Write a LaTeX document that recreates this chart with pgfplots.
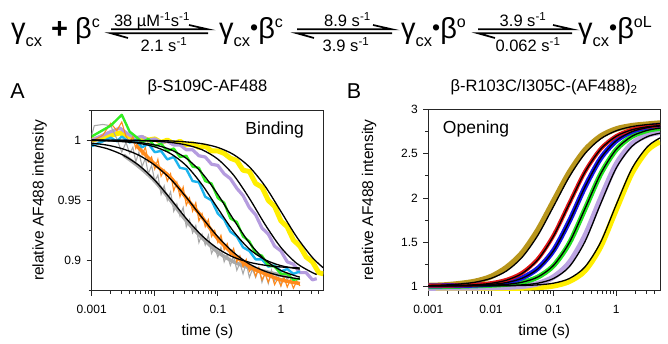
\documentclass[border=0pt]{standalone}
\usepackage{fontspec}
\setmainfont{Liberation Sans}
\usepackage{pgfplots}
\pgfplotsset{compat=1.18}
\definecolor{cgray}{HTML}{A9A9A9}
\definecolor{corange}{HTML}{FF8A1C}
\definecolor{ccyan}{HTML}{1CB4EE}
\definecolor{cgreen}{HTML}{33EE22}
\definecolor{cpurple}{HTML}{B59CDF}
\definecolor{cyellow}{HTML}{FFEE00}
\definecolor{cgold}{HTML}{B8961C}
\definecolor{cred}{HTML}{E01414}
\definecolor{cblue}{HTML}{1414E6}
\definecolor{cgreenb}{HTML}{22E022}
\definecolor{clav}{HTML}{BBA4E2}
\newcommand{\eqf}{\fontsize{29}{29}\selectfont}
\newcommand{\lblf}{\fontsize{16.5}{17}\selectfont}
\newcommand{\eqsub}[1]{\raisebox{-8.2pt}{\fontsize{16.5}{17}\selectfont #1}}
\newcommand{\eqsup}[1]{\raisebox{10.5pt}{\fontsize{16}{16}\selectfont #1}}
\newcommand{\bul}{\raisebox{2.5pt}{\fontsize{23}{23}\selectfont •}}
\tikzset{fitline/.style={black, line width=1.3pt, smooth}}
\begin{document}
\begin{tikzpicture}
\useasboundingbox (0pt,0pt) rectangle (668pt,343pt);
% ---------- reaction scheme ----------
\node[anchor=base west, inner sep=0pt, font=\eqf] at (11pt,304.7pt) {γ\eqsub{cx}\hspace{9pt}\textbf{+}\hspace{7pt}β\eqsup{c}};
\node[anchor=base west, inner sep=0pt, font=\eqf] at (219pt,304.7pt) {γ\eqsub{cx}\bul β\eqsup{c}};
\node[anchor=base west, inner sep=0pt, font=\eqf] at (401pt,304.7pt) {γ\eqsub{cx}\bul β\eqsup{o}};
\node[anchor=base west, inner sep=0pt, font=\eqf] at (578pt,304.7pt) {γ\eqsub{cx}\bul β\eqsup{oL}};
\draw[line width=1.7pt] (111pt,313.7pt) -- (208pt,313.7pt) -- (189pt,318pt);
\draw[line width=1.7pt] (208pt,309.7pt) -- (111pt,309.7pt) -- (128pt,305pt);
\draw[line width=1.7pt] (297pt,313.7pt) -- (392pt,313.7pt) -- (373pt,318pt);
\draw[line width=1.7pt] (392pt,309.7pt) -- (297pt,309.7pt) -- (314pt,305pt);
\draw[line width=1.7pt] (478pt,313.7pt) -- (572pt,313.7pt) -- (553pt,318pt);
\draw[line width=1.7pt] (572pt,309.7pt) -- (478pt,309.7pt) -- (495pt,305pt);
\node[anchor=base, inner sep=0pt, font=\lblf] at (152pt,316.5pt) {38 µM\textsuperscript{-1}s\textsuperscript{-1}};
\node[anchor=base, inner sep=0pt, font=\lblf] at (164pt,291.3pt) {2.1 s\textsuperscript{-1}};
\node[anchor=base, inner sep=0pt, font=\lblf] at (347.5pt,316.5pt) {8.9 s\textsuperscript{-1}};
\node[anchor=base, inner sep=0pt, font=\lblf] at (346pt,291.3pt) {3.9 s\textsuperscript{-1}};
\node[anchor=base, inner sep=0pt, font=\lblf] at (523pt,316.5pt) {3.9 s\textsuperscript{-1}};
\node[anchor=base, inner sep=0pt, font=\lblf] at (528pt,291.3pt) {0.062 s\textsuperscript{-1}};
\node[anchor=base, font=\fontsize{21.5}{22}\selectfont] at (17.5pt,244.7pt) {A};
\node[anchor=base, font=\fontsize{21.5}{22}\selectfont] at (354pt,244.7pt) {B};
% ---------- panel A ----------
\begin{semilogxaxis}[scale only axis, at={(91.7pt,52.3pt)}, anchor=south west, width=231.6pt, height=180.7pt,
  tick pos=left, tick align=outside,
  axis line style={line width=0.9pt, black!85},
  major tick length=5pt, minor tick length=3pt,
  tick style={line width=0.8pt, black!85},
  ticklabel style={font=\fontsize{12}{14}\selectfont},
  xticklabel style={yshift=-6pt},
  yticklabel style={xshift=-2pt},
  title style={font=\fontsize{16.5}{19}\selectfont, at={(axis description cs:0.5,1)}, anchor=base, yshift=12pt},
  xlabel style={font=\fontsize{15.5}{18}\selectfont, at={(axis description cs:0.5,0)}, anchor=base, yshift=-45pt},
  ylabel style={font=\fontsize{15.5}{18}\selectfont, at={(axis description cs:-0.225,0.5)}, anchor=center},
  xtick={0.001,0.01,0.1,1}, xticklabels={0.001,0.01,0.1,1},
  minor xtick={0.002,0.003,0.004,0.005,0.006,0.007,0.008,0.009,0.02,0.03,0.04,0.05,0.06,0.07,0.08,0.09,0.2,0.3,0.4,0.5,0.6,0.7,0.8,0.9,2,3,4},
  xmin=0.001, xmax=4.7, ymin=0.875, ymax=1.025,
  ytick={0.9,0.95,1}, yticklabels={0.9,0.95,1}, minor ytick={0.875,0.925,0.975,1.025},
  title={β-S109C-AF488}, xlabel={time (s)}, ylabel={relative AF488 intensity}]
\addplot[cyellow, line width=5pt, line join=round] coordinates {(0.001,1.000)(0.002,1.004)(0.0028,1.006)(0.004,1.003)(0.005,1.001)(0.0063,1.002)(0.0079,1.000)(0.01,1.001)(0.0126,0.998)(0.0158,1.000)(0.02,0.997)(0.0251,0.999)(0.0316,0.996)(0.0398,0.997)(0.0501,0.994)(0.0631,0.995)(0.0794,0.991)(0.1,0.991)(0.126,0.989)(0.158,0.985)(0.2,0.983)(0.251,0.975)(0.316,0.974)(0.398,0.964)(0.501,0.961)(0.631,0.950)(0.794,0.945)(1.0,0.933)(1.26,0.928)(1.58,0.917)(2.0,0.912)(2.51,0.903)(3.16,0.899)(3.98,0.890)(4.7,0.889)};
\addplot[cpurple, line width=3.2pt, line join=round] coordinates {(0.001,1.000)(0.002,1.007)(0.0028,1.010)(0.004,1.004)(0.005,1.002)(0.0063,1.003)(0.0079,1.000)(0.01,1.001)(0.0126,0.998)(0.0158,0.999)(0.02,0.996)(0.0251,0.996)(0.0316,0.992)(0.0398,0.992)(0.0501,0.987)(0.0631,0.986)(0.0794,0.980)(0.1,0.979)(0.126,0.972)(0.158,0.968)(0.2,0.960)(0.251,0.954)(0.316,0.944)(0.398,0.938)(0.501,0.927)(0.631,0.922)(0.794,0.912)(1.0,0.908)(1.26,0.899)(1.58,0.897)(2.0,0.890)(2.51,0.890)(3.16,0.884)(3.7,0.885)};
\addplot[cgray, line width=3.5pt, smooth] coordinates {(0.0032,0.9875)(0.0056,0.978)(0.01,0.966)(0.0178,0.950)(0.0316,0.933)(0.0562,0.919)(0.1,0.907)(0.178,0.899)(0.316,0.894)(0.562,0.891)(1,0.888)(1.41,0.887)};
\addplot[cgray, line width=1.1pt] coordinates {(0.001,1.004)(0.0011,1.012)(0.0015,1.013)(0.002,1.012)(0.0025,1.001)(0.003,0.990)(0.0035,0.998)(0.004,0.989)(0.0045,0.994)(0.005,0.982)(0.0056,0.990)(0.0063,0.978)(0.0071,0.985)(0.0079,0.972)(0.0089,0.979)(0.01,0.966)(0.0112,0.971)(0.0126,0.955)(0.0141,0.962)(0.0158,0.950)(0.0178,0.957)(0.02,0.941)(0.0224,0.947)(0.0251,0.937)(0.0282,0.944)(0.0316,0.928)(0.0355,0.934)(0.0398,0.923)(0.0447,0.929)(0.0501,0.915)(0.0562,0.922)(0.0631,0.913)(0.0708,0.921)(0.0794,0.906)(0.0891,0.911)(0.1,0.903)(0.112,0.911)(0.126,0.899)(0.141,0.905)(0.158,0.896)(0.178,0.904)(0.2,0.892)(0.224,0.898)(0.251,0.889)(0.282,0.898)(0.316,0.886)(0.355,0.893)(0.398,0.886)(0.447,0.894)(0.501,0.882)(0.562,0.890)(0.631,0.881)(0.708,0.892)(0.794,0.883)(0.891,0.889)(1.0,0.879)(1.12,0.889)(1.26,0.884)(1.41,0.888)};
\addplot[corange, line width=3.5pt, smooth] coordinates {(0.005,0.996)(0.01,0.980)(0.0178,0.969)(0.0316,0.952)(0.0562,0.936)(0.1,0.918)(0.178,0.905)(0.316,0.895)(0.562,0.889)(1,0.884)(2,0.881)};
\addplot[corange, line width=1.1pt] coordinates {(0.001,0.999)(0.0015,1.004)(0.002,1.014)(0.0025,1.008)(0.003,1.015)(0.0035,1.003)(0.004,0.998)(0.0045,1.003)(0.005,0.993)(0.0056,1.000)(0.0063,0.988)(0.0071,0.994)(0.0079,0.982)(0.0089,0.986)(0.01,0.976)(0.0112,0.984)(0.0126,0.970)(0.0141,0.975)(0.0158,0.966)(0.0178,0.972)(0.02,0.958)(0.0224,0.965)(0.0251,0.953)(0.0282,0.961)(0.0316,0.946)(0.0355,0.952)(0.0398,0.941)(0.0447,0.948)(0.0501,0.933)(0.0562,0.939)(0.0631,0.928)(0.0708,0.934)(0.0794,0.920)(0.0891,0.925)(0.1,0.915)(0.112,0.921)(0.126,0.909)(0.141,0.914)(0.158,0.904)(0.178,0.910)(0.2,0.899)(0.224,0.904)(0.251,0.895)(0.282,0.901)(0.316,0.891)(0.355,0.895)(0.398,0.887)(0.447,0.894)(0.501,0.884)(0.562,0.889)(0.631,0.882)(0.708,0.889)(0.794,0.880)(0.891,0.885)(1.0,0.879)(1.12,0.886)(1.26,0.878)(1.41,0.884)(1.58,0.877)(1.78,0.883)(2.0,0.879)};
\addplot[ccyan, line width=2.4pt, line join=round] coordinates {(0.001,0.995)(0.0015,0.999)(0.002,1.002)(0.0025,0.999)(0.003,1.003)(0.004,0.998)(0.005,1.000)(0.0063,0.994)(0.0079,0.997)(0.01,0.990)(0.0126,0.991)(0.0158,0.984)(0.02,0.986)(0.0251,0.977)(0.0316,0.976)(0.0398,0.966)(0.0501,0.965)(0.0631,0.953)(0.0794,0.950)(0.1,0.939)(0.126,0.934)(0.158,0.924)(0.2,0.920)(0.251,0.911)(0.316,0.908)(0.398,0.901)(0.501,0.901)(0.631,0.895)(0.794,0.896)(1.0,0.891)(1.26,0.893)(1.58,0.889)(2.0,0.891)};
\addplot[cgreen, line width=2.4pt, line join=round] coordinates {(0.001,1.003)(0.002,1.012)(0.003,1.021)(0.004,1.007)(0.005,1.003)(0.0063,0.998)(0.0079,1.001)(0.01,0.995)(0.0126,0.997)(0.0158,0.991)(0.02,0.993)(0.0251,0.986)(0.0316,0.987)(0.0398,0.978)(0.0501,0.977)(0.0631,0.966)(0.0794,0.964)(0.1,0.952)(0.126,0.948)(0.158,0.935)(0.2,0.932)(0.251,0.920)(0.316,0.916)(0.398,0.906)(0.501,0.904)(0.631,0.896)(0.794,0.895)(1.0,0.889)(1.26,0.889)(1.58,0.884)(2.0,0.885)};
% fits
\addplot[fitline] coordinates {(0.001,0.9960)(0.00178,0.9928)(0.00316,0.9875)(0.00562,0.9790)(0.01,0.9667)(0.0178,0.9512)(0.0316,0.9349)(0.0562,0.9206)(0.1,0.9099)(0.178,0.9028)(0.316,0.8986)(0.562,0.8961)(1,0.8947)(1.78,0.8940)(2,0.8939)};
\addplot[fitline] coordinates {(0.001,0.9975)(0.00178,0.9958)(0.00316,0.9926)(0.00562,0.9874)(0.01,0.9792)(0.0178,0.9677)(0.0316,0.9526)(0.0562,0.9357)(0.1,0.9198)(0.178,0.9067)(0.316,0.8972)(0.562,0.8911)(1,0.8873)(1.78,0.8851)(2,0.8847)};
\addplot[fitline] coordinates {(0.001,0.9997)(0.00178,0.9994)(0.00316,0.9987)(0.00562,0.9973)(0.01,0.9944)(0.0178,0.9888)(0.0316,0.9788)(0.0562,0.9630)(0.1,0.9433)(0.178,0.9241)(0.316,0.9096)(0.562,0.9007)(1,0.8958)(1.78,0.8933)(2,0.8931)};
\addplot[fitline] coordinates {(0.001,0.9998)(0.00178,0.9995)(0.00316,0.9990)(0.00562,0.9980)(0.01,0.9960)(0.0178,0.9921)(0.0316,0.9849)(0.0562,0.9726)(0.1,0.9549)(0.178,0.9340)(0.316,0.9147)(0.562,0.9005)(1,0.8918)(1.78,0.8870)(2,0.8864)};
\addplot[fitline] coordinates {(0.001,1.0)(0.00178,0.9999)(0.00316,0.9998)(0.00562,0.9996)(0.01,0.9991)(0.0178,0.9981)(0.0316,0.9960)(0.0562,0.9920)(0.1,0.9842)(0.178,0.9709)(0.316,0.9517)(0.562,0.9299)(1,0.9109)(1.78,0.8977)(3.16,0.8900)(3.7,0.8885)};
\addplot[fitline] coordinates {(0.001,1.0)(0.00316,0.9999)(0.01,0.9996)(0.0178,0.9993)(0.0316,0.9985)(0.0562,0.9970)(0.1,0.9939)(0.178,0.9880)(0.316,0.9778)(0.562,0.9617)(1,0.9408)(1.78,0.9196)(3.16,0.9025)(4.7,0.8940)};
\node[anchor=base, font=\fontsize{17.5}{18}\selectfont] at (rel axis cs:0.79,0.862) {Binding};
\end{semilogxaxis}
% ---------- panel B ----------
\begin{semilogxaxis}[scale only axis, at={(428.3pt,52.3pt)}, anchor=south west, width=231.7pt, height=181.4pt,
  tick pos=left, tick align=outside,
  axis line style={line width=0.9pt, black!85},
  major tick length=5pt, minor tick length=3pt,
  tick style={line width=0.8pt, black!85},
  ticklabel style={font=\fontsize{12}{14}\selectfont},
  xticklabel style={yshift=-6pt},
  yticklabel style={xshift=-2pt},
  title style={font=\fontsize{16.5}{19}\selectfont, at={(axis description cs:0.5,1)}, anchor=base, yshift=12pt},
  xlabel style={font=\fontsize{15.5}{18}\selectfont, at={(axis description cs:0.5,0)}, anchor=base, yshift=-45pt},
  ylabel style={font=\fontsize{15.5}{18}\selectfont, at={(axis description cs:-0.255,0.5)}, anchor=center},
  xtick={0.001,0.01,0.1,1}, xticklabels={0.001,0.01,0.1,1},
  minor xtick={0.002,0.003,0.004,0.005,0.006,0.007,0.008,0.009,0.02,0.03,0.04,0.05,0.06,0.07,0.08,0.09,0.2,0.3,0.4,0.5,0.6,0.7,0.8,0.9,2,3,4},
  xmin=0.001, xmax=5, ymin=0.955, ymax=3,
  ytick={1,1.5,2,2.5,3}, yticklabels={1,1.5,2,2.5,3}, minor ytick={1.25,1.75,2.25,2.75},
  title={β-R103C/I305C-(AF488)\textsubscript{2}}, xlabel={time (s)}, ylabel={relative AF488 intensity}]
\addplot[cgold, line width=5.5pt, smooth] coordinates {(0.001,1.014)(0.00178,1.019)(0.00316,1.035)(0.00562,1.061)(0.01,1.114)(0.0178,1.218)(0.0316,1.383)(0.0562,1.64)(0.1,1.966)(0.178,2.288)(0.316,2.539)(0.562,2.696)(1,2.778)(1.78,2.815)(3.16,2.833)(5,2.845)};
\addplot[cyellow, line width=5.5pt, smooth] coordinates {(0.001,0.972)(0.00178,0.973)(0.00316,0.975)(0.00562,0.976)(0.01,0.978)(0.0178,0.981)(0.0316,0.985)(0.0562,0.992)(0.1,1.01)(0.178,1.06)(0.316,1.18)(0.562,1.45)(1,1.87)(1.78,2.28)(3.16,2.54)(5,2.635)};
\addplot[clav, line width=5.5pt, smooth] coordinates {(0.001,0.985)(0.00178,0.986)(0.00316,0.987)(0.00562,0.988)(0.01,0.99)(0.0178,0.995)(0.0316,1.005)(0.0562,1.035)(0.1,1.11)(0.178,1.27)(0.316,1.57)(0.562,1.99)(1,2.38)(1.78,2.61)(3.16,2.71)(5,2.74)};
\addplot[cgreenb, line width=5pt, smooth] coordinates {(0.001,1.0)(0.00178,1.002)(0.00316,1.005)(0.00562,1.01)(0.01,1.016)(0.0178,1.027)(0.0316,1.05)(0.0562,1.108)(0.1,1.238)(0.178,1.49)(0.316,1.872)(0.562,2.267)(1,2.545)(1.78,2.694)(3.16,2.762)(5,2.785)};
\addplot[cblue, line width=5pt, smooth] coordinates {(0.001,1.01)(0.00178,1.011)(0.00316,1.013)(0.00562,1.018)(0.01,1.028)(0.0178,1.05)(0.0316,1.1)(0.0562,1.207)(0.1,1.41)(0.178,1.738)(0.316,2.122)(0.562,2.445)(1,2.645)(1.78,2.75)(3.16,2.8)(5,2.822)};
\addplot[cred, line width=4pt, smooth] coordinates {(0.001,1.011)(0.00178,1.012)(0.00316,1.015)(0.00562,1.022)(0.01,1.04)(0.0178,1.078)(0.0316,1.157)(0.0562,1.314)(0.1,1.58)(0.178,1.94)(0.316,2.295)(0.562,2.552)(1,2.698)(1.78,2.77)(3.16,2.805)(5,2.82)};
% fits
\addplot[fitline] coordinates {(0.001,1.014)(0.00178,1.019)(0.00316,1.03)(0.00562,1.051)(0.01,1.094)(0.0178,1.178)(0.0316,1.333)(0.0562,1.58)(0.1,1.906)(0.178,2.238)(0.316,2.499)(0.562,2.666)(1,2.758)(1.78,2.805)(3.16,2.828)(5,2.838)};
\addplot[fitline] coordinates {(0.001,1.011)(0.00178,1.012)(0.00316,1.015)(0.00562,1.022)(0.01,1.038)(0.0178,1.074)(0.0316,1.151)(0.0562,1.306)(0.1,1.572)(0.178,1.934)(0.316,2.291)(0.562,2.549)(1,2.696)(1.78,2.769)(3.16,2.803)(5,2.816)};
\addplot[fitline] coordinates {(0.001,1.01)(0.00178,1.011)(0.00316,1.013)(0.00562,1.017)(0.01,1.026)(0.0178,1.047)(0.0316,1.096)(0.0562,1.202)(0.1,1.407)(0.178,1.736)(0.316,2.122)(0.562,2.445)(1,2.645)(1.78,2.747)(3.16,2.794)(5,2.812)};
\addplot[fitline] coordinates {(0.001,1.01)(0.00178,1.01)(0.00316,1.011)(0.00562,1.013)(0.01,1.017)(0.0178,1.027)(0.0316,1.051)(0.0562,1.11)(0.1,1.241)(0.178,1.496)(0.316,1.877)(0.562,2.27)(1,2.548)(1.78,2.696)(3.16,2.763)(5,2.787)};
\addplot[fitline] coordinates {(0.001,1.01)(0.00178,1.01)(0.00316,1.01)(0.00562,1.01)(0.01,1.011)(0.0178,1.014)(0.0316,1.021)(0.0562,1.04)(0.1,1.093)(0.178,1.225)(0.316,1.506)(0.562,1.932)(1,2.337)(1.78,2.582)(3.16,2.693)(5,2.73)};
\addplot[fitline] coordinates {(0.001,1.01)(0.00178,1.01)(0.00316,1.01)(0.00562,1.01)(0.01,1.01)(0.0178,1.011)(0.0316,1.014)(0.0562,1.021)(0.1,1.04)(0.178,1.092)(0.316,1.222)(0.562,1.50)(1,1.925)(1.78,2.332)(3.16,2.58)(5,2.677)};
\node[anchor=base, font=\fontsize{17.5}{18}\selectfont] at (rel axis cs:0.206,0.868) {Opening};
\end{semilogxaxis}
\end{tikzpicture}
\end{document}
